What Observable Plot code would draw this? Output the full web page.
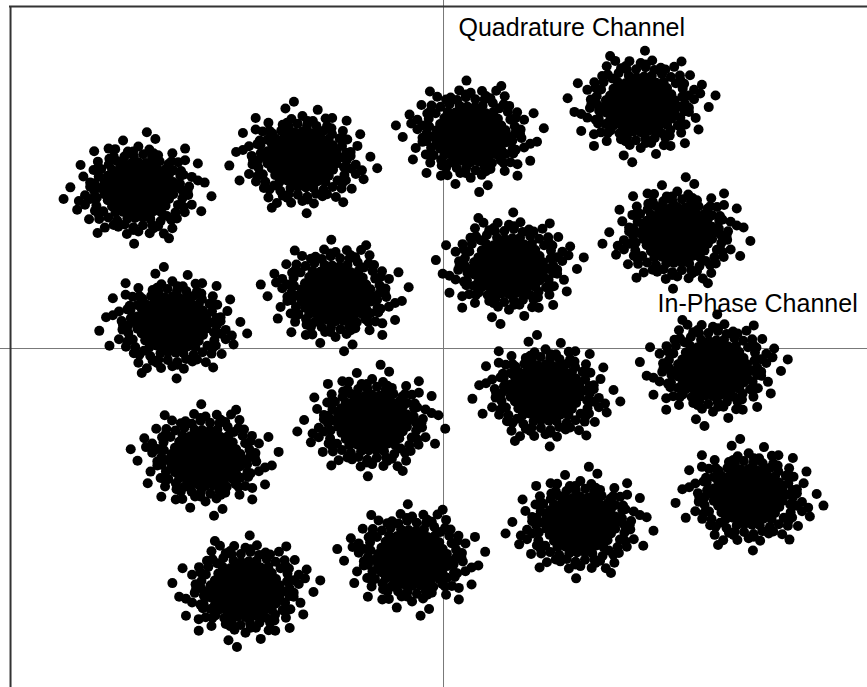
<!DOCTYPE html>
<html><head><meta charset="utf-8">
<script src="https://cdn.jsdelivr.net/npm/d3@7"></script>
<script src="https://cdn.jsdelivr.net/npm/@observablehq/plot@0.6"></script>
<style>body{margin:0;background:#fff}</style>
</head><body><div id="chart"></div>
<script>
// Constellation cluster centres (In-Phase, Quadrature)
const centerI = [-3.59, -1.66, 0.32, 2.32, -3.19, -1.27, 0.77, 2.75, -2.80, -0.84, 1.20, 3.17, -2.33, -0.37, 1.61, 3.59];
const centerQ = [2.32, 2.77, 3.16, 3.60, 0.34, 0.82, 1.22, 1.66, -1.60, -1.10, -0.66, -0.28, -3.53, -3.07, -2.60, -2.19];
// orientation of the noise sample pattern for each cluster
const mirrorI = [1, -1, 1, -1, -1, 1, -1, 1, 1, 1, -1, -1, -1, 1, 1, -1];
const mirrorQ = [1, 1, -1, -1, 1, -1, -1, 1, -1, 1, 1, -1, -1, -1, 1, 1];
// noise samples around a cluster centre: dense core
const noiseCore = [
[-0.18,0.41],[-0.09,0.40],[0,0.42],[0.09,0.41],[0.17,0.40],
[-0.31,0.31],[-0.22,0.32],[-0.13,0.33],[-0.04,0.31],[0.05,0.32],[0.14,0.33],[0.23,0.31],[0.32,0.32],
[-0.36,0.22],[-0.27,0.23],[-0.18,0.24],[-0.09,0.22],[0,0.23],[0.09,0.24],[0.18,0.22],[0.27,0.23],[0.36,0.24],
[-0.40,0.13],[-0.31,0.14],[-0.22,0.15],[-0.13,0.13],[-0.04,0.14],[0.05,0.15],[0.14,0.13],[0.23,0.14],[0.32,0.15],[0.41,0.13],
[-0.45,0.04],[-0.36,0.05],[-0.27,0.06],[-0.18,0.04],[-0.09,0.05],[0,0.06],[0.09,0.04],[0.18,0.05],[0.27,0.06],[0.36,0.04],[0.45,0.05],
[-0.40,-0.05],[-0.31,-0.04],[-0.22,-0.03],[-0.13,-0.05],[-0.04,-0.04],[0.05,-0.03],[0.14,-0.05],[0.23,-0.04],[0.32,-0.03],[0.41,-0.05],
[-0.36,-0.14],[-0.27,-0.13],[-0.18,-0.12],[-0.09,-0.14],[0,-0.13],[0.09,-0.12],[0.18,-0.14],[0.27,-0.13],[0.36,-0.12],
[-0.31,-0.23],[-0.22,-0.22],[-0.13,-0.21],[-0.04,-0.23],[0.05,-0.22],[0.14,-0.21],[0.23,-0.23],[0.32,-0.22],
[-0.27,-0.32],[-0.18,-0.31],[-0.09,-0.30],[0,-0.32],[0.09,-0.31],[0.18,-0.30],[0.27,-0.32],
[-0.13,-0.41],[-0.04,-0.40],[0.05,-0.39],[0.14,-0.41]
];
// noise samples: edge of the dense core
const noiseShell = [
[0.52,0],[0.489,0.104],[0.494,0.220],[0.413,0.300],[0.355,0.394],[0.25,0.433],[0.161,0.495],[0.057,0.537],
[-0.054,0.507],[-0.164,0.504],[-0.25,0.433],[-0.348,0.386],[-0.437,0.318],[-0.466,0.208],[-0.518,0.110],
[-0.52,0],[-0.489,-0.104],[-0.494,-0.220],[-0.413,-0.300],[-0.355,-0.394],[-0.25,-0.433],[-0.161,-0.495],
[-0.057,-0.537],[0.054,-0.507],[0.164,-0.504],[0.26,-0.450],[0.335,-0.372],[0.437,-0.318],[0.466,-0.208],[0.518,-0.110],
[0.58,0],[0.53,0.236],[0.388,0.431],[0.179,0.552],[-0.061,0.577],[-0.29,0.502],[-0.469,0.341],[-0.567,0.121],
[-0.567,-0.121],[-0.469,-0.341],[-0.29,-0.502],[-0.061,-0.577],[0.179,-0.552],[0.388,-0.431],[0.53,-0.236]
];
// noise samples: ragged band around the core
const noiseBand = [
[0.597,0.063],[0.628,0.204],[0.502,0.29],[0.468,0.421],[0.400,0.550],[0.232,0.521],[0.129,0.606],[0,0.65],
[-0.123,0.577],[-0.273,0.612],[-0.341,0.469],[-0.476,0.428],[-0.528,0.305],[-0.647,0.210],[-0.567,0.060],
[-0.627,-0.066],[-0.628,-0.204],[-0.511,-0.295],[-0.461,-0.415],[-0.394,-0.542],[-0.236,-0.530],[-0.135,-0.636],
[0,-0.60],[0.133,-0.626],[0.232,-0.521],[0.400,-0.550],[0.453,-0.408],[0.546,-0.315],[0.628,-0.204],[0.587,-0.062],
[0.70,0.15],[-0.35,0.62],[0.30,-0.63],[-0.70,-0.15],[0.55,0.45],[-0.58,-0.42]
];
// noise samples: isolated outliers
const noiseOutliers = [
[0.78,0.12],[0.74,-0.30],[0.55,0.62],[0.20,0.76],[-0.18,0.74],[-0.52,0.58],[-0.80,0.05],[-0.72,-0.28],
[-0.48,-0.62],[-0.05,-0.78],[0.36,-0.70],[0.86,-0.08],[0.70,0.40],[-0.68,0.38],[0.10,0.86],[-0.88,-0.12]
];
const axisLabels = ["Quadrature Channel", "In-Phase Channel"];

const noise = noiseCore.concat(noiseShell, noiseBand, noiseOutliers);
const points = [];
centerI.forEach((ci, k) => {
  for (const [dx, dy] of noise) {
    points.push({I: ci + mirrorI[k] * dx, Q: centerQ[k] + mirrorQ[k] * dy});
  }
});

const chart = Plot.plot({
  width: 867, height: 687, margin: 0,
  x: {domain: [-5.212, 4.988], range: [0, 867], axis: null},
  y: {domain: [-4.985, 5.118], range: [687, 0], axis: null},
  style: {fontFamily: "'Liberation Sans', Arial, sans-serif", background: "white"},
  marks: [
    Plot.ruleX([0], {stroke: "#777", strokeWidth: 1}),
    Plot.ruleY([0], {stroke: "#777", strokeWidth: 1}),
    Plot.ruleX([-5.094], {y1: -4.985, y2: 5.03, stroke: "#333", strokeWidth: 2}),
    Plot.ruleY([5.03], {x1: -5.106, x2: 4.988, stroke: "#333", strokeWidth: 2}),
    Plot.dot(points, {x: "I", y: "Q", r: 5, fill: "black"}),
    Plot.text([axisLabels[0]], {x: 0.176, y: 4.603, text: d => d, textAnchor: "start", lineAnchor: "bottom", fontSize: 25, fill: "black"}),
    Plot.text([axisLabels[1]], {x: 2.518, y: 0.537, text: d => d, textAnchor: "start", lineAnchor: "bottom", fontSize: 25, fill: "black"})
  ]
});
document.getElementById("chart").appendChild(chart);
</script>
</body></html>
